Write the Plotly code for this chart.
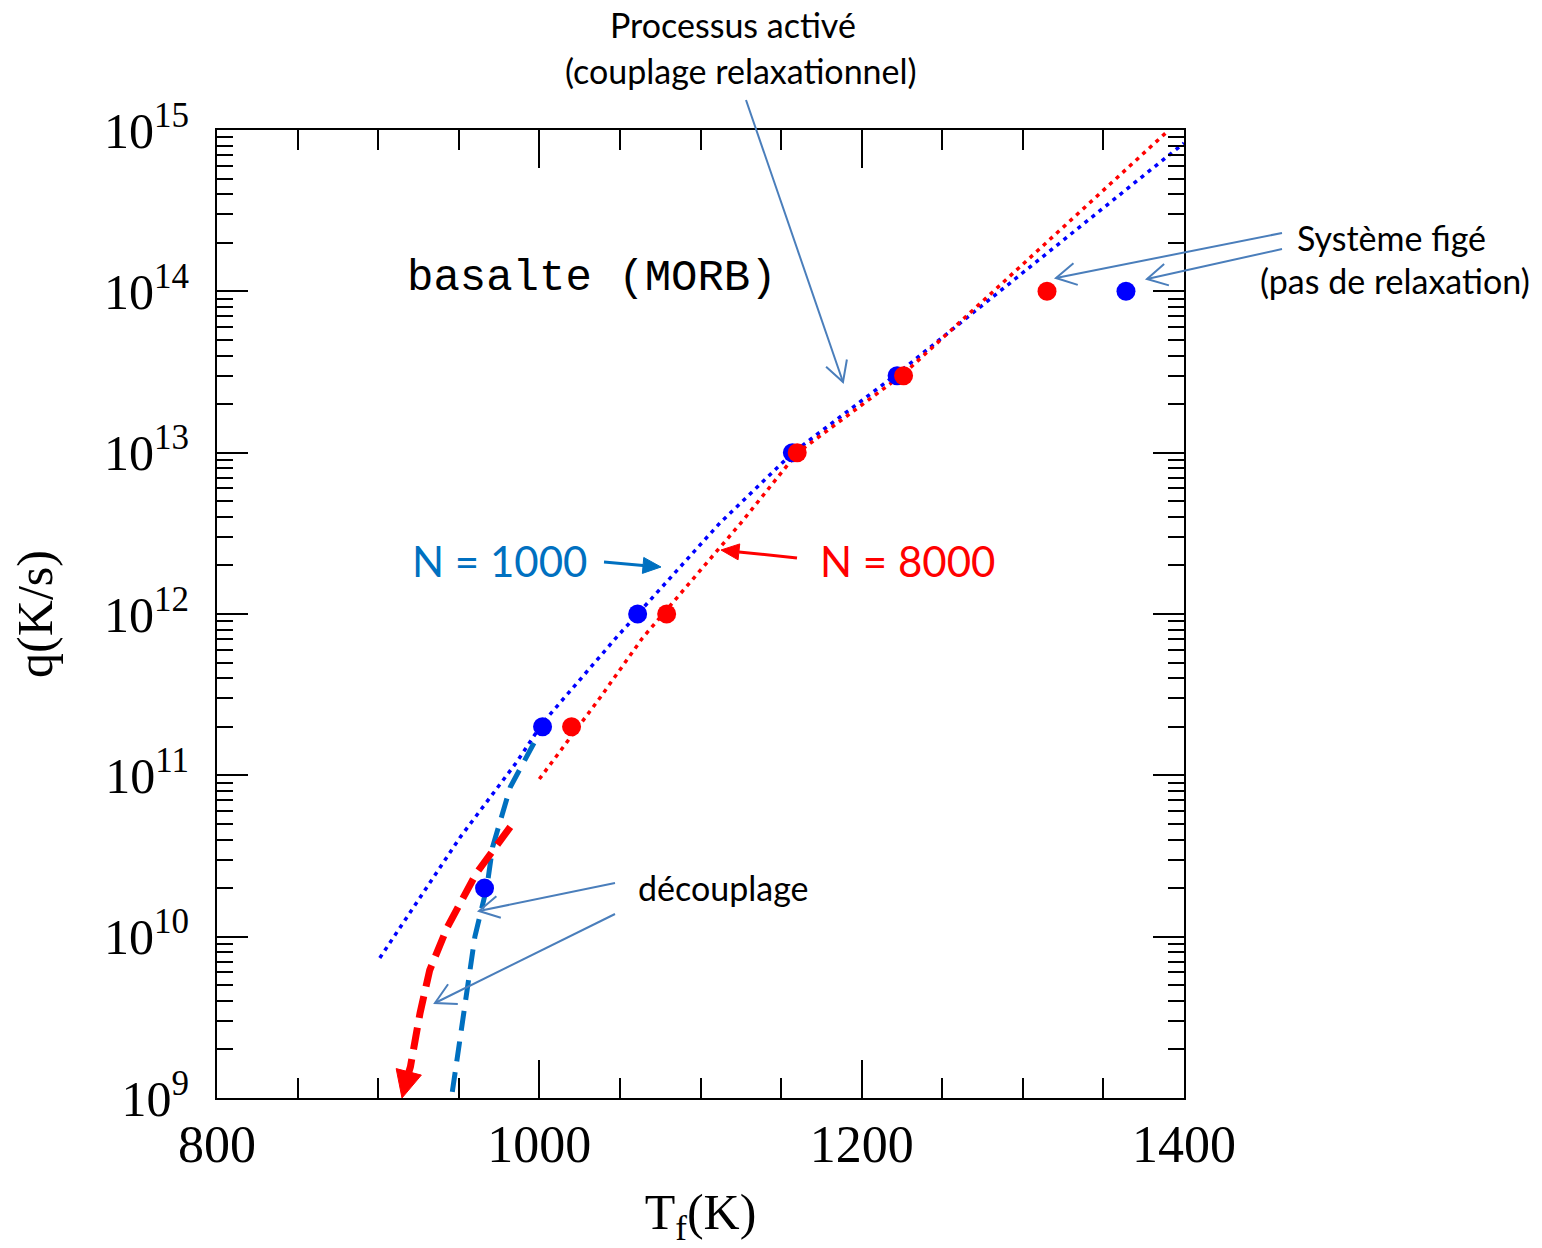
import math
import plotly.graph_objects as go

# ---------------- data ----------------
# simulated points: fictive temperature Tf (K) vs cooling rate q (K/s)
blue_T = [966, 1002, 1061, 1157, 1222, 1364]          # N = 1000
blue_q = [2e10, 2e11, 1e12, 1e13, 3e13, 1e14]
red_T = [1020, 1079, 1160, 1226, 1315]                 # N = 8000
red_q = [2e11, 1e12, 1e13, 3e13, 1e14]

# dotted fits ("processus activé")
blue_fit_T = [901, 951, 986, 1002, 1048, 1112, 1157, 1222, 1400]
blue_fit_q = [7.38e9, 4.15e10, 1.21e11, 2.11e11, 7.19e11, 3.66e12, 9.95e12,
              3.08e13, 8.30e14]
red_fit_T = [1000, 1038, 1064, 1125, 1160, 1226, 1390]
red_fit_q = [9.48e10, 3.06e11, 7.10e11, 3.66e12, 9.95e12, 3.08e13, 9.86e14]

# dashed "découplage" curves
blue_dec_T = [946, 951, 960, 967.5, 971, 982, 994, 1000]
blue_dec_q = [1.09e9, 2.39e9, 1.0e10, 2.04e10, 3.6e10, 8.47e10, 1.44e11, 1.83e11]
red_dec_T = [982, 961, 943, 932, 926, 920, 916]
red_dec_q = [4.79e10, 2.48e10, 1.15e10, 6.21e9, 3.37e9, 1.56e9, 1.15e9]

x_ticks = [800, 1000, 1200, 1400]
y_exps = [9, 10, 11, 12, 13, 14, 15]
y_ticks = [10.0 ** e for e in y_exps]
y_ticktext = [f"10<sup>{e}</sup>" for e in y_exps]
y_minor = [m * 10.0 ** e for e in y_exps[:-1] for m in range(2, 10)]

BLUE = "#0000FF"
RED = "#FF0000"
DBLUE = "#0070C0"
ARROW = "#4A7EBB"

fig = go.Figure()

fig.add_trace(go.Scatter(x=blue_fit_T, y=blue_fit_q, mode="lines",
                         line=dict(color=BLUE, width=3.5, dash="4px,5px")))
fig.add_trace(go.Scatter(x=red_fit_T, y=red_fit_q, mode="lines",
                         line=dict(color=RED, width=3.5, dash="4px,5px")))
fig.add_trace(go.Scatter(x=blue_dec_T, y=blue_dec_q, mode="lines",
                         line=dict(color=DBLUE, width=5, dash="20px,11px")))
fig.add_trace(go.Scatter(x=red_dec_T, y=red_dec_q, mode="lines",
                         line=dict(color=RED, width=7, dash="22px,10px")))
fig.add_trace(go.Scatter(x=blue_T, y=blue_q, mode="markers",
                         marker=dict(color=BLUE, size=19, line=dict(width=0))))
fig.add_trace(go.Scatter(x=red_T, y=red_q, mode="markers",
                         marker=dict(color=RED, size=19, line=dict(width=0))))

# ---------------- layout geometry ----------------
L, R, T, B = 217, 1184, 130, 1098
W, H = 1542, 1248


def pp(px, py):
    return (px - L) / (R - L), (B - py) / (B - T)


shapes = []


def arrow(x0, y0, x1, y1, color, width, head="open", hl=20, hw=11, shaft=True):
    dx, dy = x0 - x1, y0 - y1
    d = math.hypot(dx, dy)
    ux, uy = dx / d, dy / d
    nx, ny = -uy, ux
    a = pp(x1 + hl * ux + hw * nx, y1 + hl * uy + hw * ny)
    b = pp(x1 + hl * ux - hw * nx, y1 + hl * uy - hw * ny)
    t = pp(x1, y1)
    s = pp(x0, y0)
    if head == "open":
        shapes.append(dict(type="path", xref="paper", yref="paper",
                           path=f"M{s[0]},{s[1]} L{t[0]},{t[1]}",
                           line=dict(color=color, width=width)))
        shapes.append(dict(type="path", xref="paper", yref="paper",
                           path=f"M{a[0]},{a[1]} L{t[0]},{t[1]} L{b[0]},{b[1]}",
                           line=dict(color=color, width=width)))
    else:
        bc = pp(x1 + hl * ux, y1 + hl * uy)
        if shaft:
            shapes.append(dict(type="path", xref="paper", yref="paper",
                               path=f"M{s[0]},{s[1]} L{bc[0]},{bc[1]}",
                               line=dict(color=color, width=width)))
        shapes.append(dict(type="path", xref="paper", yref="paper",
                           path=f"M{a[0]},{a[1]} L{t[0]},{t[1]} L{b[0]},{b[1]} Z",
                           fillcolor=color, line=dict(color=color, width=1)))


arrow(746, 100, 843, 382, ARROW, 2)
arrow(1282, 233, 1056, 278, ARROW, 2)
arrow(1282, 249, 1147, 279, ARROW, 2)
arrow(615, 883, 479, 911, ARROW, 2)
arrow(615, 914, 435, 1003, ARROW, 2)
arrow(604, 562, 661, 567, DBLUE, 3, head="filled", hl=18, hw=8)
arrow(797, 558, 721, 550, RED, 3, head="filled", hl=18, hw=8)
# head of the red dashed "découplage" curve
arrow(410, 1067, 402, 1098, RED, 0, head="filled", hl=27, hw=13, shaft=False)

CAL = "Lato, 'Liberation Sans', sans-serif"
annotations = []


def txt(text, px, py, size, color="black", xanchor="center", font=CAL):
    x, y = pp(px, py)
    annotations.append(dict(text=text, x=x, y=y, xref="paper", yref="paper",
                            xanchor=xanchor, yanchor="middle", showarrow=False,
                            font=dict(family=font, size=size, color=color)))


txt("Processus activé", 733, 25, 34)
txt("(couplage relaxationnel)", 741, 70, 34)
txt("Système figé", 1391, 237, 34)
txt("(pas de relaxation)", 1395, 281, 34)
txt("découplage", 636, 887, 34, xanchor="left")
txt("N = 1000", 410, 561, 42, color=DBLUE, xanchor="left")
txt("N = 8000", 818, 561, 42, color=RED, xanchor="left")
txt("basalte (MORB)", 405, 278, 44, xanchor="left",
    font="'Liberation Mono', 'DejaVu Sans Mono', monospace")

SERIF = "'Liberation Serif', 'DejaVu Serif', serif"

fig.update_layout(
    width=W, height=H, autosize=False,
    margin=dict(l=L, r=W - R, t=T, b=H - B, pad=0),
    paper_bgcolor="white", plot_bgcolor="white",
    showlegend=False,
    shapes=shapes, annotations=annotations,
    xaxis=dict(range=[800, 1400], tickvals=x_ticks, ticks="inside", ticklen=38,
               tickwidth=2, tickcolor="black", showline=True, linecolor="black",
               linewidth=2, mirror="ticks", showgrid=False, zeroline=False,
               tickfont=dict(family=SERIF, size=52, color="black"),
               ticklabelstandoff=0,
               minor=dict(dtick=50, tick0=800, ticks="inside", ticklen=20,
                          tickwidth=2, tickcolor="black", showgrid=False),
               title=dict(text="T<sub>f</sub>(K)", standoff=24,
                          font=dict(family=SERIF, size=50, color="black"))),
    yaxis=dict(type="log", range=[9, 15], tickvals=y_ticks, ticktext=y_ticktext,
               ticks="inside", ticklen=31, tickwidth=2, tickcolor="black",
               showline=True, linecolor="black", linewidth=2, mirror="ticks",
               showgrid=False, zeroline=False,
               tickfont=dict(family=SERIF, size=50, color="black"),
               ticklabelstandoff=16,
               minor=dict(tickvals=y_minor, ticks="inside", ticklen=16,
                          tickwidth=2, tickcolor="black", showgrid=False),
               title=dict(text="q(K/s)", standoff=36,
                          font=dict(family=SERIF, size=50, color="black"))),
)

fig.write_html("out.html")
